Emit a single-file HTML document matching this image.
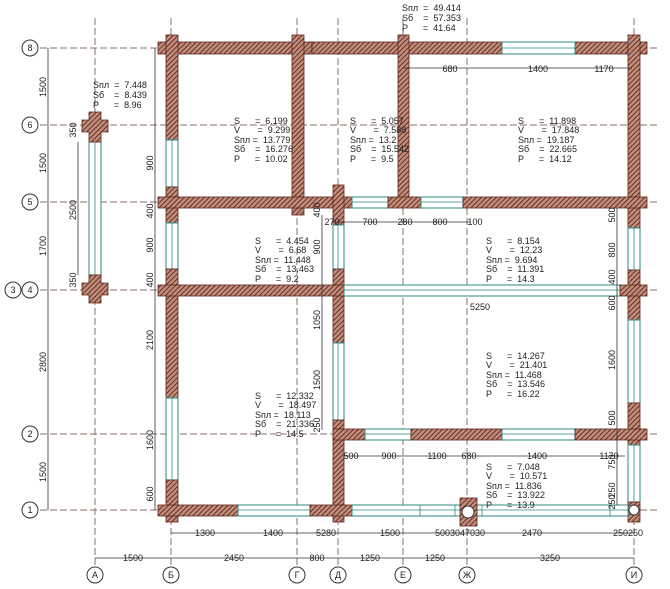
<!DOCTYPE html>
<html><head><meta charset="utf-8"><style>
body{margin:0;background:#fff}
svg{display:block}
text{font-family:"Liberation Sans",sans-serif;font-size:9px;fill:#222;white-space:pre}
.d{stroke:#8a7068;stroke-width:1;stroke-dasharray:7 3;fill:none}
.w{fill:url(#h);stroke:#5a2418;stroke-width:0.8}
.g{fill:#fff;stroke:#2e8a80;stroke-width:1}
.l{stroke:#333;stroke-width:0.8;fill:none}
.c{fill:#fff;stroke:#333;stroke-width:1}
</style></head><body>
<svg width="670" height="589" viewBox="0 0 670 589" xmlns="http://www.w3.org/2000/svg">
<defs><pattern id="h" width="3.5" height="3.5" patternUnits="userSpaceOnUse" patternTransform="rotate(45)">
<rect width="3.5" height="3.5" fill="#c08e7c"/><line x1="0" y1="0" x2="0" y2="3.5" stroke="#5e2418" stroke-width="1.8"/></pattern></defs>

<g class="d">
<line x1="40" y1="48" x2="660" y2="48"/><line x1="40" y1="125" x2="660" y2="125"/>
<line x1="40" y1="202" x2="660" y2="202"/><line x1="40" y1="290" x2="660" y2="290"/>
<line x1="40" y1="434" x2="660" y2="434"/><line x1="40" y1="510" x2="660" y2="510"/>
<line x1="95" y1="18" x2="95" y2="565"/><line x1="171" y1="18" x2="171" y2="565"/>
<line x1="297" y1="18" x2="297" y2="565"/><line x1="338" y1="18" x2="338" y2="565"/>
<line x1="403" y1="18" x2="403" y2="565"/><line x1="467" y1="18" x2="467" y2="565"/>
<line x1="634" y1="18" x2="634" y2="565"/>
</g>

<rect class="w" x="158" y="42" width="154" height="12"/>
<rect class="w" x="312" y="42" width="190" height="12"/>
<rect class="w" x="575" y="42" width="72" height="12"/>
<rect class="g" x="502" y="42" width="73" height="12"/>
<rect class="w" x="166" y="35" width="12" height="105"/>
<rect class="g" x="166" y="140" width="12" height="47"/>
<rect class="w" x="166" y="187" width="12" height="36"/>
<rect class="g" x="166" y="223" width="12" height="46"/>
<rect class="w" x="166" y="269" width="12" height="129"/>
<rect class="g" x="166" y="398" width="12" height="82"/>
<rect class="w" x="166" y="480" width="12" height="42"/>
<rect class="w" x="292" y="35" width="12" height="180"/>
<rect class="w" x="398" y="35" width="11" height="167"/>
<rect class="w" x="628" y="35" width="12" height="193"/>
<rect class="g" x="628" y="228" width="12" height="42"/>
<rect class="w" x="628" y="270" width="12" height="50"/>
<rect class="g" x="628" y="320" width="12" height="83"/>
<rect class="w" x="628" y="403" width="12" height="42"/>
<rect class="g" x="628" y="445" width="12" height="57"/>
<rect class="w" x="628" y="502" width="12" height="20"/>
<rect class="w" x="158" y="197" width="194" height="11"/>
<rect class="g" x="352" y="197" width="36" height="11"/>
<rect class="w" x="388" y="197" width="33" height="11"/>
<rect class="g" x="421" y="197" width="42" height="11"/>
<rect class="w" x="463" y="197" width="184" height="11"/>
<rect class="w" x="333" y="185" width="11" height="40"/>
<rect class="g" x="333" y="225" width="11" height="44"/>
<rect class="w" x="333" y="269" width="11" height="74"/>
<rect class="g" x="333" y="343" width="11" height="77"/>
<rect class="w" x="333" y="420" width="11" height="102"/>
<rect class="w" x="158" y="285" width="186" height="11"/>
<rect class="g" x="344" y="285" width="276" height="11"/>
<rect class="w" x="620" y="285" width="27" height="11"/>
<rect class="w" x="333" y="429" width="32" height="11"/>
<rect class="g" x="365" y="429" width="46" height="11"/>
<rect class="w" x="411" y="429" width="91" height="11"/>
<rect class="g" x="502" y="429" width="73" height="11"/>
<rect class="w" x="575" y="429" width="72" height="11"/>
<rect class="w" x="158" y="505" width="80" height="11"/>
<rect class="g" x="238" y="505" width="72" height="11"/>
<rect class="w" x="310" y="505" width="42" height="11"/>
<rect class="g" x="352" y="505" width="276" height="11"/>
<g stroke="#2e8a80" stroke-width="0.8">
<line x1="502" y1="48" x2="575" y2="48"/><line x1="172" y1="140" x2="172" y2="187"/><line x1="172" y1="223" x2="172" y2="269"/>
<line x1="172" y1="398" x2="172" y2="480"/><line x1="352" y1="202" x2="388" y2="202"/><line x1="421" y1="202" x2="463" y2="202"/>
<line x1="344" y1="290" x2="620" y2="290"/><line x1="365" y1="434" x2="411" y2="434"/><line x1="502" y1="434" x2="575" y2="434"/>
<line x1="238" y1="510" x2="310" y2="510"/><line x1="352" y1="510" x2="628" y2="510"/>
<line x1="634" y1="228" x2="634" y2="270"/><line x1="634" y1="320" x2="634" y2="403"/><line x1="634" y1="445" x2="634" y2="502"/>
<line x1="338" y1="225" x2="338" y2="269"/><line x1="338" y1="343" x2="338" y2="420"/>
<line x1="420" y1="505" x2="420" y2="516"/><line x1="455" y1="505" x2="455" y2="516"/><line x1="482" y1="505" x2="482" y2="516"/><line x1="610" y1="505" x2="610" y2="516"/>
</g>
<rect class="w" x="460" y="498" width="17" height="28"/>
<circle cx="468" cy="512" r="6" fill="#fff" stroke="#333"/>
<circle cx="634" cy="510" r="5" fill="#fff" stroke="#333"/>

<rect class="g" x="89" y="142" width="12" height="133"/>
<line x1="95" y1="142" x2="95" y2="275" stroke="#2e8a80" stroke-width="0.8"/>
<path class="w" d="M89 112h12v8h7v12h-7v10h-12v-10h-7v-12h7z" stroke="#2233aa"/>
<path class="w" d="M89 275h12v8h7v12h-7v8h-12v-8h-7v-12h7z" stroke="#2233aa"/>

<g class="l">
<line x1="48" y1="48" x2="48" y2="510"/><line x1="155" y1="48" x2="155" y2="510"/>
<line x1="78" y1="142" x2="78" y2="275"/>
<line x1="95" y1="558" x2="634" y2="558"/><line x1="171" y1="533" x2="634" y2="533"/>
<line x1="403" y1="68" x2="632" y2="68"/><line x1="333" y1="222" x2="470" y2="222"/>
<line x1="344" y1="456" x2="625" y2="456"/><line x1="617" y1="208" x2="617" y2="505"/>
<line x1="322" y1="215" x2="322" y2="430"/>
</g>

<g>
<circle class="c" cx="30" cy="48" r="8"/><circle class="c" cx="30" cy="125" r="8"/>
<circle class="c" cx="30" cy="202" r="8"/><circle class="c" cx="13" cy="290" r="8"/>
<circle class="c" cx="30" cy="290" r="8"/><circle class="c" cx="30" cy="434" r="8"/>
<circle class="c" cx="30" cy="510" r="8"/>
<circle class="c" cx="95" cy="575" r="8"/><circle class="c" cx="171" cy="575" r="8"/>
<circle class="c" cx="297" cy="575" r="8"/><circle class="c" cx="338" cy="575" r="8"/>
<circle class="c" cx="403" cy="575" r="8"/><circle class="c" cx="467" cy="575" r="8"/>
<circle class="c" cx="634" cy="575" r="8"/>
</g>
<g text-anchor="middle">
<text x="30" y="51">8</text><text x="30" y="128">6</text><text x="30" y="205">5</text>
<text x="13" y="293">3</text><text x="30" y="293">4</text><text x="30" y="437">2</text><text x="30" y="513">1</text>
<text x="95" y="578">А</text><text x="171" y="578">Б</text><text x="297" y="578">Г</text>
<text x="338" y="578">Д</text><text x="403" y="578">Е</text><text x="467" y="578">Ж</text><text x="634" y="578">И</text>
<text x="450" y="72">680</text><text x="538" y="72">1400</text><text x="604" y="72">1170</text>
<text x="332" y="225">270</text><text x="370" y="225">700</text><text x="405" y="225">280</text><text x="440" y="225">800</text><text x="475" y="225">100</text>
<text x="480" y="310">5250</text>
<text x="351" y="459">500</text><text x="389" y="459">900</text><text x="437" y="459">1100</text><text x="469" y="459">680</text><text x="537" y="459">1400</text><text x="609" y="459">1170</text>
<text x="205" y="536">1300</text><text x="273" y="536">1400</text><text x="326" y="536">5280</text><text x="390" y="536">1500</text><text x="460" y="536">5003047030</text><text x="532" y="536">2470</text><text x="628" y="536">250250</text>
<text x="133" y="561">1500</text><text x="234" y="561">2450</text><text x="317" y="561">800</text><text x="370" y="561">1250</text><text x="435" y="561">1250</text><text x="550" y="561">3250</text>
</g>
<g text-anchor="middle">
<text transform="translate(46,87) rotate(-90)">1500</text><text transform="translate(46,163) rotate(-90)">1500</text>
<text transform="translate(46,246) rotate(-90)">1700</text><text transform="translate(46,362) rotate(-90)">2800</text>
<text transform="translate(46,472) rotate(-90)">1500</text>
<text transform="translate(76,130) rotate(-90)">350</text><text transform="translate(76,210) rotate(-90)">2500</text><text transform="translate(76,280) rotate(-90)">350</text>
<text transform="translate(153,163) rotate(-90)">900</text><text transform="translate(153,211) rotate(-90)">400</text>
<text transform="translate(153,245) rotate(-90)">900</text><text transform="translate(153,280) rotate(-90)">400</text>
<text transform="translate(153,340) rotate(-90)">2100</text><text transform="translate(153,440) rotate(-90)">1600</text>
<text transform="translate(153,494) rotate(-90)">600</text>
<text transform="translate(320,210) rotate(-90)">400</text><text transform="translate(320,247) rotate(-90)">900</text>
<text transform="translate(320,320) rotate(-90)">1050</text><text transform="translate(320,380) rotate(-90)">1500</text>
<text transform="translate(320,425) rotate(-90)">250</text>
<text transform="translate(615,215) rotate(-90)">500</text><text transform="translate(615,250) rotate(-90)">800</text>
<text transform="translate(615,277) rotate(-90)">400</text><text transform="translate(615,303) rotate(-90)">600</text>
<text transform="translate(615,360) rotate(-90)">1600</text><text transform="translate(615,418) rotate(-90)">500</text>
<text transform="translate(615,462) rotate(-90)">750</text><text transform="translate(615,490) rotate(-90)">250</text>
<text transform="translate(615,502) rotate(-90)">250</text>
</g>

<g>
<text x="93" y="88">Sпл  =  7.448</text><text x="93" y="98">Sб    =  8.439</text><text x="93" y="108">P      =  8.96</text>
<text x="402" y="11">Sпл  =  49.414</text><text x="402" y="21">Sб    =  57.353</text><text x="402" y="31">P      =  41.64</text>
<text x="234" y="124">S      =  6.199</text><text x="234" y="133">V       =  9.299</text><text x="234" y="143">Sпл =  13.779</text><text x="234" y="152">Sб    =  16.276</text><text x="234" y="162">P      =  10.02</text>
<text x="350" y="124">S      =  5.057</text><text x="350" y="133">V       =  7.588</text><text x="350" y="143">Sпл =  13.2</text><text x="350" y="152">Sб    =  15.542</text><text x="350" y="162">P      =  9.5</text>
<text x="518" y="124">S      =  11.898</text><text x="518" y="133">V       =  17.848</text><text x="518" y="143">Sпл =  19.187</text><text x="518" y="152">Sб    =  22.665</text><text x="518" y="162">P      =  14.12</text>
<text x="255" y="244">S      =  4.454</text><text x="255" y="253">V       =  6.68</text><text x="255" y="263">Sпл =  11.448</text><text x="255" y="272">Sб    =  13.463</text><text x="255" y="282">P      =  9.2</text>
<text x="486" y="244">S      =  8.154</text><text x="486" y="253">V       =  12.23</text><text x="486" y="263">Sпл =  9.694</text><text x="486" y="272">Sб    =  11.391</text><text x="486" y="282">P      =  14.3</text>
<text x="486" y="359">S      =  14.267</text><text x="486" y="368">V       =  21.401</text><text x="486" y="378">Sпл =  11.468</text><text x="486" y="387">Sб    =  13.546</text><text x="486" y="397">P      =  16.22</text>
<text x="255" y="399">S      =  12.332</text><text x="255" y="408">V       =  18.497</text><text x="255" y="418">Sпл =  18.113</text><text x="255" y="427">Sб    =  21.336</text><text x="255" y="437">P      =  14.5</text>
<text x="486" y="470">S      =  7.048</text><text x="486" y="479">V       =  10.571</text><text x="486" y="489">Sпл =  11.836</text><text x="486" y="498">Sб    =  13.922</text><text x="486" y="508">P      =  13.9</text>
</g>
</svg>
</body></html>
